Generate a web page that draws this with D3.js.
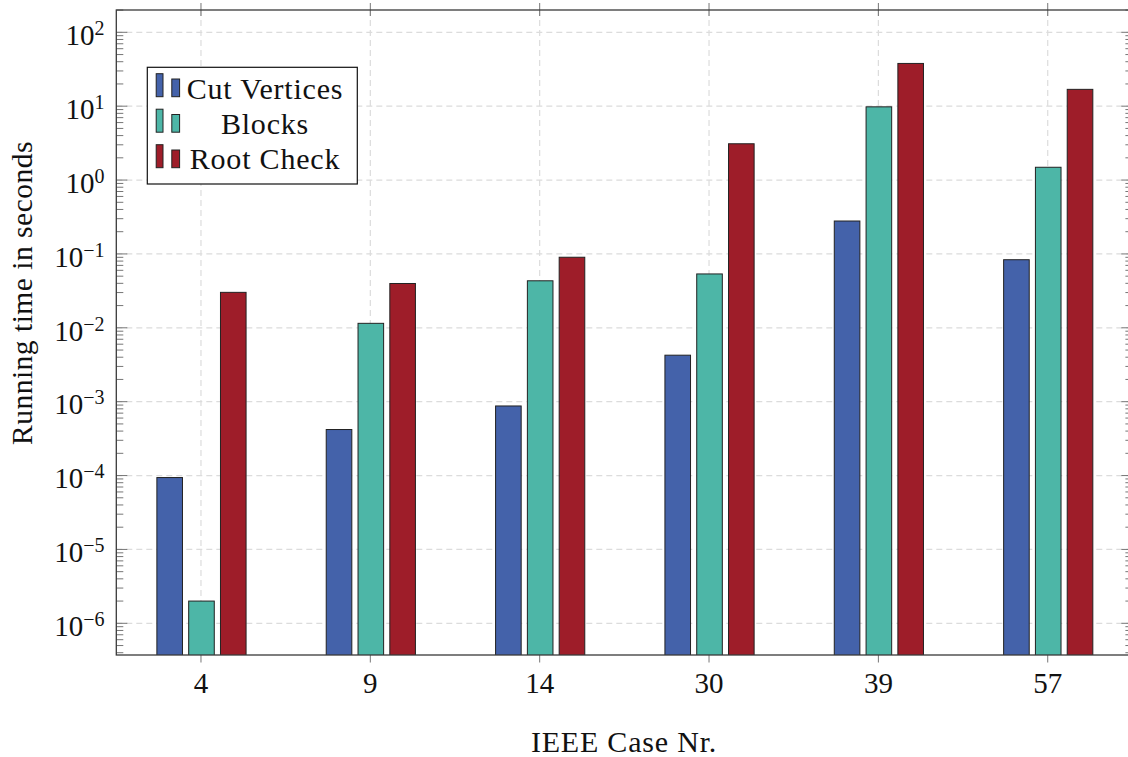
<!DOCTYPE html>
<html>
<head>
<meta charset="utf-8">
<script src="https://cdn.jsdelivr.net/npm/d3@7"></script>
<style>
  html, body { margin: 0; padding: 0; background: #fff; }
  svg { display: block; font-family: "Liberation Serif", "DejaVu Serif", serif; }
</style>
</head>
<body>
<svg id="chart" width="1128" height="757"></svg>
<script>
const categories = ["4", "9", "14", "30", "39", "57"];
const seriesNames = ["Cut Vertices", "Blocks", "Root Check"];
const cutVertices = [9.4e-5, 4.2e-4, 8.75e-4, 4.26e-3, 0.279, 0.0835];
const blocks = [2.0e-6, 0.0115, 0.0433, 0.0536, 9.8, 1.49];
const rootCheck = [0.0302, 0.0398, 0.0902, 3.1, 37.9, 16.9];
const yTickExponents = [-6, -5, -4, -3, -2, -1, 0, 1, 2];
const xLabel = "IEEE Case Nr.";
const yLabel = "Running time in seconds";

const seriesValues = [cutVertices, blocks, rootCheck];
const colors = ["#4462aa", "#4db6a7", "#9e1d29"];

const svg = d3.select("#chart");
const L = 116.3, R = 1132.4, T = 10, B = 655;

const x = d3.scaleBand().domain(categories).range([L, R]).paddingInner(0).paddingOuter(0);
const xc = c => x(c) + x.bandwidth() / 2;
const x1 = d3.scaleBand().domain(seriesNames).range([-44.6, 44.6]).paddingInner(0.195).paddingOuter(0);
const y = d3.scaleLog().domain([Math.pow(10, -6.429), Math.pow(10, 2.302)]).range([B, T]);

// clip
svg.append("defs").append("clipPath").attr("id", "plotclip")
  .append("rect").attr("x", L).attr("y", T).attr("width", R - L).attr("height", B - T);

// grid
const grid = svg.append("g").attr("stroke", "#dcdcdc").attr("stroke-width", 1.2).attr("stroke-dasharray", "6,4");
grid.selectAll("line.h").data(yTickExponents).join("line")
  .attr("x1", L).attr("x2", R)
  .attr("y1", d => y(Math.pow(10, d))).attr("y2", d => y(Math.pow(10, d)));
grid.selectAll("line.v").data(categories).join("line")
  .attr("x1", d => xc(d)).attr("x2", d => xc(d))
  .attr("y1", T).attr("y2", B);

// y ticks (major + minor), left and right, inward
const minor = [];
for (let e = -7; e <= 2; e++) for (let m = 2; m <= 9; m++) {
  const v = m * Math.pow(10, e);
  if (v >= y.domain()[0] && v <= y.domain()[1]) minor.push(v);
}
const tk = svg.append("g").attr("stroke", "#666").attr("stroke-width", 0.9);
tk.selectAll("line.mn").data(minor).join("line")
  .attr("x1", L).attr("x2", L + 7).attr("y1", d => y(d)).attr("y2", d => y(d));
tk.selectAll("line.mnr").data(minor).join("line")
  .attr("x1", R).attr("x2", R - 7).attr("y1", d => y(d)).attr("y2", d => y(d));
tk.selectAll("line.mj").data(yTickExponents).join("line")
  .attr("x1", L).attr("x2", L + 11).attr("y1", d => y(Math.pow(10, d))).attr("y2", d => y(Math.pow(10, d)));
tk.selectAll("line.mjr").data(yTickExponents).join("line")
  .attr("x1", R).attr("x2", R - 11).attr("y1", d => y(Math.pow(10, d))).attr("y2", d => y(Math.pow(10, d)));
// x ticks, centered on top & bottom axes
tk.selectAll("line.xb").data(categories).join("line")
  .attr("x1", d => xc(d)).attr("x2", d => xc(d)).attr("y1", B - 7).attr("y2", B + 7.5);
tk.selectAll("line.xt").data(categories).join("line")
  .attr("x1", d => xc(d)).attr("x2", d => xc(d)).attr("y1", T - 7).attr("y2", T + 6);

// bars
const barsG = svg.append("g").attr("clip-path", "url(#plotclip)");
seriesNames.forEach((s, si) => {
  barsG.selectAll("rect.s" + si).data(categories).join("rect")
    .attr("x", c => xc(c) + x1(s) + 0.5)
    .attr("width", x1.bandwidth())
    .attr("y", (c, i) => y(seriesValues[si][i]))
    .attr("height", (c, i) => B + 2 - y(seriesValues[si][i]))
    .attr("fill", colors[si])
    .attr("stroke", "#222").attr("stroke-width", 1);
});

// frame
svg.append("rect").attr("x", L).attr("y", T).attr("width", R - L).attr("height", B - T)
  .attr("fill", "none").attr("stroke", "#3a3a3a").attr("stroke-width", 1.3);

// y tick labels
const yl = svg.append("g").attr("fill", "#111").attr("font-size", 29);
yTickExponents.forEach(e => {
  const t = yl.append("text").attr("x", 104.5).attr("y", y(Math.pow(10, e)) + 12.7).attr("text-anchor", "end");
  t.append("tspan").text("10");
  t.append("tspan").attr("dy", -10).attr("font-size", 20).text(e < 0 ? "\u2212" + Math.abs(e) : String(e));
});

// x tick labels
svg.append("g").attr("fill", "#111").attr("font-size", 29)
  .selectAll("text").data(categories).join("text")
  .attr("x", d => xc(d)).attr("y", 692.7).attr("text-anchor", "middle").text(d => d);

// axis labels
svg.append("text").attr("x", 624).attr("y", 751.7).attr("text-anchor", "middle")
  .attr("font-size", 30).attr("letter-spacing", 0.8).attr("fill", "#111").text(xLabel);
svg.append("text").attr("transform", "translate(32,293) rotate(-90)").attr("text-anchor", "middle")
  .attr("font-size", 29.5).attr("letter-spacing", 0.5).attr("fill", "#111").text(yLabel);

// legend
const lg = svg.append("g");
lg.append("rect").attr("x", 147.3).attr("y", 67.3).attr("width", 210).attr("height", 116.7)
  .attr("fill", "#fff").attr("stroke", "#111").attr("stroke-width", 1.2);
seriesNames.forEach((s, i) => {
  const by = 96.7 + i * 35.5;
  lg.append("rect").attr("x", 156.2).attr("y", by - 23).attr("width", 6.8).attr("height", 23)
    .attr("fill", colors[i]).attr("stroke", "#222").attr("stroke-width", 1);
  lg.append("rect").attr("x", 171.8).attr("y", by - 17.7).attr("width", 7.8).attr("height", 17.7)
    .attr("fill", colors[i]).attr("stroke", "#222").attr("stroke-width", 1);
  lg.append("text").attr("x", 265).attr("y", 98.7 + i * 35.3).attr("text-anchor", "middle")
    .attr("font-size", 30).attr("letter-spacing", 0.8).attr("fill", "#111").text(s);
});
</script>
</body>
</html>
